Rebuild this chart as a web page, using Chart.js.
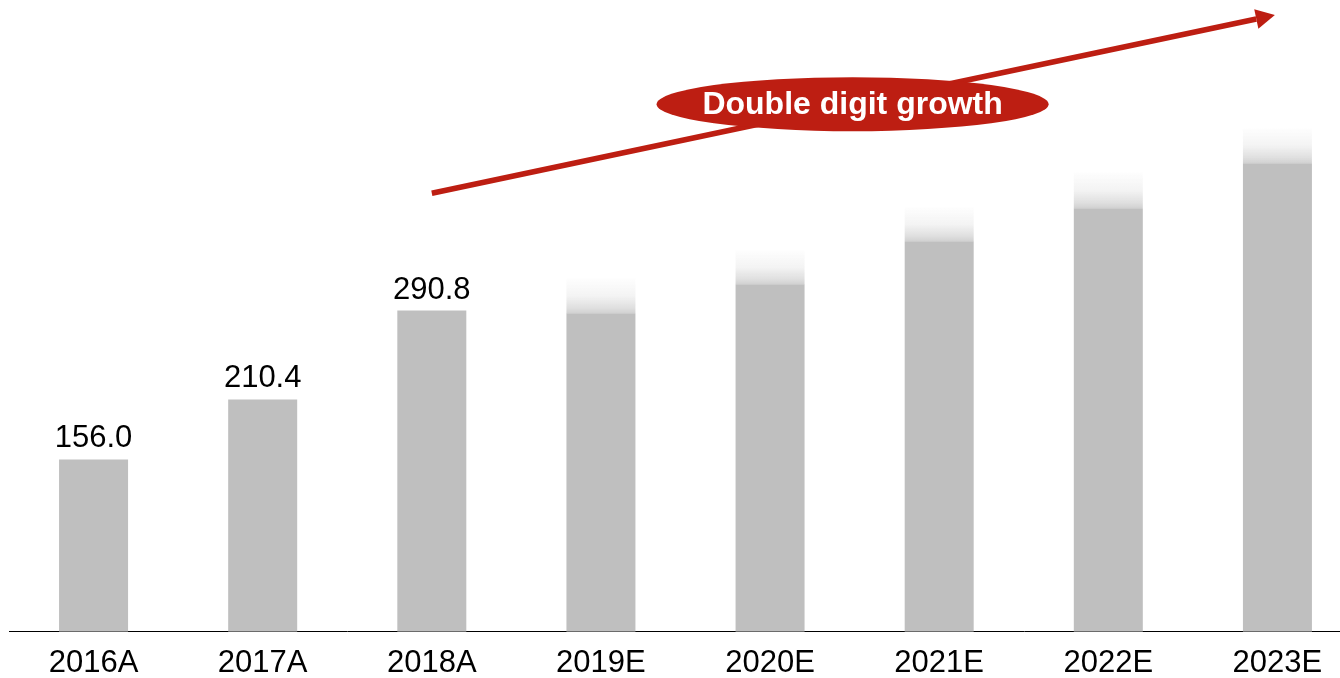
<!DOCTYPE html>
<html>
<head>
<meta charset="utf-8">
<script src="https://cdn.jsdelivr.net/npm/chart.js@4.4.1/dist/chart.umd.min.js"></script>
<style>
  html, body { margin: 0; padding: 0; background: #fff; overflow: hidden; }
  #wrap { width: 1340px; height: 678px; overflow: hidden; }
  #growthChart { display: block; }
</style>
</head>
<body>
<div id="wrap"><canvas id="growthChart" width="1362" height="695"></canvas></div>
<script>
// Datos del gráfico
const years = ['2016A', '2017A', '2018A', '2019E', '2020E', '2021E', '2022E', '2023E'];
const barValues = [156.0, 210.4, 290.8, 288.3, 314.6, 353.5, 383.5, 424.3];
const fadeValues = [null, null, null, 31.7, 30.8, 30.8, 32.6, 31.7]; // parte difuminada sobre las estimaciones
const valueLabels = ['156.0', '210.4', '290.8', null, null, null, null, null];
const calloutText = 'Double digit growth';

const FONT = '"Liberation Sans", Arial, sans-serif';
const GREY = '#bfbfbf';
const RED = '#bd1e12';

// Degradado para la parte superior de las barras estimadas
function fadeFill(ctx) {
    const chart = ctx.chart;
    const area = chart.chartArea;
    const i = ctx.dataIndex;
    if (!area || fadeValues[i] == null) return 'rgba(191,191,191,0.3)';
    const yScale = chart.scales.y;
    const yBase = yScale.getPixelForValue(barValues[i]);
    const yTop = yScale.getPixelForValue(barValues[i] + fadeValues[i]);
    const g = chart.ctx.createLinearGradient(0, yTop, 0, yBase);
    g.addColorStop(0, 'rgba(191,191,191,0.02)');
    g.addColorStop(0.5, 'rgba(191,191,191,0.18)');
    g.addColorStop(0.85, 'rgba(191,191,191,0.5)');
    g.addColorStop(1, 'rgba(191,191,191,0.72)');
    return g;
}

// Etiquetas de valor + flecha y elipse
const overlayPlugin = {
    id: 'overlay',
    afterDatasetsDraw(chart) {
        const ctx = chart.ctx;
        const meta = chart.getDatasetMeta(0);
        const xs = chart.scales.x;
        const ys = chart.scales.y;

        ctx.save();
        ctx.fillStyle = '#000';
        ctx.font = '31px ' + FONT;
        ctx.textAlign = 'center';
        ctx.textBaseline = 'alphabetic';
        meta.data.forEach((bar, i) => {
            if (!valueLabels[i]) return;
            ctx.fillText(valueLabels[i], bar.x, bar.y - 12);
        });

        // flecha
        const x1 = xs.getPixelForValue(2), y1 = ys.getPixelForValue(397);
        const x2 = xs.getPixelForValue(6.985), y2 = ys.getPixelForValue(558.4);
        const ang = Math.atan2(y2 - y1, x2 - x1);
        const headLen = 19, headHalf = 10;
        const bx = x2 - headLen * Math.cos(ang), by = y2 - headLen * Math.sin(ang);
        ctx.strokeStyle = RED;
        ctx.fillStyle = RED;
        ctx.lineWidth = 5.5;
        ctx.beginPath();
        ctx.moveTo(x1, y1);
        ctx.lineTo(bx, by);
        ctx.stroke();
        ctx.beginPath();
        ctx.moveTo(x2, y2);
        ctx.lineTo(bx + headHalf * Math.sin(ang), by - headHalf * Math.cos(ang));
        ctx.lineTo(bx - headHalf * Math.sin(ang), by + headHalf * Math.cos(ang));
        ctx.closePath();
        ctx.fill();

        // elipse con texto
        const cx = xs.getPixelForValue(4.488), cy = ys.getPixelForValue(477.7);
        ctx.beginPath();
        ctx.ellipse(cx, cy, 196, 27, 0, 0, Math.PI * 2);
        ctx.fill();
        ctx.fillStyle = '#fff';
        ctx.font = 'bold 32px ' + FONT;
        ctx.textBaseline = 'middle';
        ctx.fillText(calloutText, cx, cy + 1);
        ctx.restore();
    }
};

new Chart(document.getElementById('growthChart'), {
    type: 'bar',
    data: {
        labels: years,
        datasets: [
            {
                data: barValues,
                backgroundColor: GREY,
                borderWidth: 0,
                barPercentage: 0.408,
                categoryPercentage: 1
            },
            {
                data: fadeValues,
                backgroundColor: fadeFill,
                borderWidth: 0,
                barPercentage: 0.408,
                categoryPercentage: 1
            }
        ]
    },
    options: {
        responsive: false,
        devicePixelRatio: 1,
        animation: false,
        layout: { padding: { left: 9, right: 0, top: 0, bottom: 0 } },
        plugins: { legend: { display: false }, tooltip: { enabled: false } },
        scales: {
            x: {
                stacked: true,
                grid: { display: false, drawTicks: false },
                border: { display: true, color: '#000', width: 1 },
                ticks: { color: '#000', padding: 13, font: { family: FONT, size: 31 } }
            },
            y: {
                stacked: true,
                display: false,
                min: 0,
                max: 572
            }
        }
    },
    plugins: [overlayPlugin]
});
</script>
</body>
</html>
